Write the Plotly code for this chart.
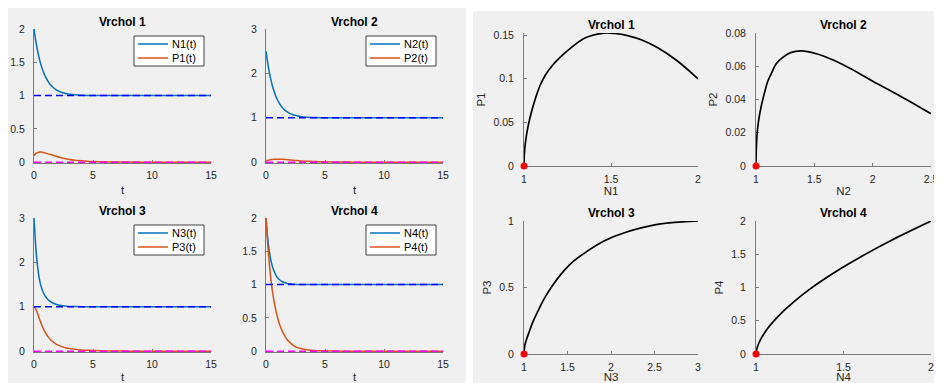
import plotly.graph_objects as go

# page has an 8px body margin: the figure is drawn at (8, 8) in the 942x383 window
OFF = 8
W, H = 942 - OFF, 383 - OFF

# ---------------- data ----------------
t = [0, 0.1, 0.2, 0.3, 0.4, 0.5, 0.6, 0.8, 1.0, 1.2, 1.4, 1.6, 1.8, 2.0,
     2.3, 2.6, 3.0, 3.5, 4.0, 4.5, 5, 6, 7, 8, 10, 12, 15]

N1 = [2.0, 1.878, 1.771, 1.677, 1.595, 1.522, 1.458, 1.353, 1.273, 1.210, 1.162, 1.125, 1.096, 1.074,
      1.050, 1.034, 1.020, 1.011, 1.006, 1.003, 1.0015, 1.0004, 1.0001, 1.0, 1.0, 1.0, 1.0]
P1 = [0.100, 0.121, 0.1353, 0.1444, 0.1495, 0.152, 0.1524, 0.147, 0.136, 0.125, 0.115, 0.105, 0.094, 0.0825,
      0.067, 0.055, 0.042, 0.031, 0.023, 0.016, 0.0116, 0.006, 0.003, 0.0015, 0.0005, 0.0002, 0.0]

N2 = [2.5, 2.311, 2.145, 2.001, 1.875, 1.764, 1.667, 1.510, 1.389, 1.297, 1.227, 1.173, 1.132, 1.101,
      1.067, 1.045, 1.026, 1.013, 1.007, 1.0035, 1.0018, 1.0005, 1.0001, 1.0, 1.0, 1.0, 1.0]
P2 = [0.0314, 0.0391, 0.0456, 0.0510, 0.0561, 0.0603, 0.0636, 0.0677, 0.0692, 0.0682, 0.0652, 0.0615, 0.0557, 0.0510,
      0.0425, 0.036, 0.029, 0.022, 0.017, 0.012, 0.0085, 0.0045, 0.002, 0.001, 0.0004, 0.0001, 0.0]

N3 = [3.0, 2.55, 2.18, 1.92, 1.72, 1.57, 1.46, 1.31, 1.22, 1.16, 1.115, 1.085, 1.063, 1.046,
      1.028, 1.017, 1.009, 1.004, 1.002, 1.001, 1.0005, 1.0001, 1.0, 1.0, 1.0, 1.0, 1.0]
P3 = [1.0, 0.976, 0.917, 0.850, 0.770, 0.698, 0.627, 0.498, 0.401, 0.322, 0.26, 0.213, 0.173, 0.142,
      0.108, 0.085, 0.062, 0.041, 0.029, 0.021, 0.015, 0.007, 0.003, 0.0015, 0.0004, 0.0001, 0.0]

N4 = [2.0, 1.78, 1.61, 1.48, 1.38, 1.30, 1.24, 1.155, 1.10, 1.065, 1.043, 1.028, 1.018, 1.012,
      1.006, 1.003, 1.0015, 1.0006, 1.0002, 1.0001, 1.0, 1.0, 1.0, 1.0, 1.0, 1.0, 1.0]
P4 = [2.0, 1.719, 1.479, 1.278, 1.108, 0.960, 0.837, 0.642, 0.491, 0.378, 0.293, 0.226, 0.173, 0.135,
      0.088, 0.058, 0.038, 0.022, 0.011, 0.007, 0.004, 0.0013, 0.0004, 0.0001, 0.0, 0.0, 0.0]

t_eq = [0, 15]
N_eq = [1, 1]
P_eq = [0, 0]
N_star = [1]
P_star = [0]

titles = ["Vrchol 1", "Vrchol 2", "Vrchol 3", "Vrchol 4"]
N_names = ["N1(t)", "N2(t)", "N3(t)", "N4(t)"]
P_names = ["P1(t)", "P2(t)", "P3(t)", "P4(t)"]
N_labels = ["N1", "N2", "N3", "N4"]
P_labels = ["P1", "P2", "P3", "P4"]
t_label = "t"

time_yticks = [[0, 0.5, 1, 1.5, 2], [0, 1, 2, 3], [0, 1, 2, 3], [0, 0.5, 1, 1.5, 2]]
time_xticks = [0, 5, 10, 15]
phase_xticks = [[1, 1.5, 2], [1, 1.5, 2, 2.5], [1, 1.5, 2, 2.5, 3], [1, 1.5, 2]]
phase_yticks = [[0, 0.05, 0.1, 0.15], [0, 0.02, 0.04, 0.06, 0.08], [0, 0.5, 1], [0, 0.5, 1, 1.5, 2]]
phase_yrange_top = [0.1525, 0.08, 1.0, 2.0]

Ns = [N1, N2, N3, N4]
Ps = [P1, P2, P3, P4]

# ---------------- layout geometry (window pixels) ----------------
time_cols = [(34, 211), (266, 443)]
time_rows = [(29, 163), (218, 352)]
phase_cols = [(524, 698), (756, 931)]
phase_rows = [(33, 166), (221, 354)]
time_title_standoff = [6, 8]
phase_title_standoff = [3, 6]


def fx(x):
    return (x - OFF) / W


def fy(y):
    return 1 - (y - OFF) / H


FONT = "Liberation Sans, Arial, Helvetica, sans-serif"
TICKC = "#262626"
AXC = "#7a7a7a"
C_N = "#0072BD"
C_P = "#D95319"


def fmt(v):
    return ("%g" % v)


fig = go.Figure()
shapes = []
annotations = []

# gray panels (two MATLAB figure windows)
shapes.append(dict(type="rect", xref="paper", yref="paper", x0=0, x1=fx(466), y0=0, y1=1,
                   fillcolor="#f0f0f0", line=dict(width=0), layer="below"))
shapes.append(dict(type="rect", xref="paper", yref="paper", x0=fx(473), x1=1, y0=0, y1=fy(11),
                   fillcolor="#f0f0f0", line=dict(width=0), layer="below"))


def axis_common():
    return dict(showline=True, linecolor=AXC, linewidth=1, ticks="inside", ticklen=3, tickcolor=AXC,
                showgrid=False, zeroline=False, mirror=False, automargin=False, layer="below traces",
                tickfont=dict(family=FONT, size=10.5, color=TICKC), fixedrange=True)


def add_legend(ax_right, ax_top, names, colors):
    x1 = ax_right - 7
    x0 = x1 - 70
    y0 = ax_top + 7
    y1 = y0 + 30
    shapes.append(dict(type="rect", xref="paper", yref="paper", x0=fx(x0), x1=fx(x1), y0=fy(y1), y1=fy(y0),
                       fillcolor="white", line=dict(color="#404040", width=1), layer="above"))
    for j, (nm, c) in enumerate(zip(names, colors)):
        yy = y0 + 8 + j * 14
        shapes.append(dict(type="line", xref="paper", yref="paper", x0=fx(x0 + 4), x1=fx(x0 + 34),
                           y0=fy(yy), y1=fy(yy), line=dict(color=c, width=1.5), layer="above"))
        annotations.append(dict(text=nm, x=fx(x0 + 36), y=fy(yy), xref="paper", yref="paper",
                                xanchor="left", yanchor="middle", showarrow=False,
                                font=dict(family=FONT, size=11, color="#000000")))


layout = {}
for i in range(4):
    r, c = divmod(i, 2)
    # ---- time plot ----
    k = i + 1
    xa = "x" if k == 1 else "x%d" % k
    ya = "y" if k == 1 else "y%d" % k
    cx0, cx1 = time_cols[c]
    ry0, ry1 = time_rows[r]
    fig.add_trace(go.Scatter(x=t, y=Ns[i], mode="lines", name=N_names[i], showlegend=False,
                             line=dict(color=C_N, width=1.5, shape="spline"), xaxis=xa, yaxis=ya))
    fig.add_trace(go.Scatter(x=t, y=Ps[i], mode="lines", name=P_names[i], showlegend=False,
                             line=dict(color=C_P, width=1.5, shape="spline"), xaxis=xa, yaxis=ya))
    fig.add_trace(go.Scatter(x=t_eq, y=N_eq, mode="lines", showlegend=False,
                             line=dict(color="#0000FF", width=1.5, dash="7px,4px"), xaxis=xa, yaxis=ya))
    fig.add_trace(go.Scatter(x=t_eq, y=P_eq, mode="lines", showlegend=False,
                             line=dict(color="#FF00FF", width=1.5, dash="7px,4px"), xaxis=xa, yaxis=ya))
    xd = axis_common()
    xd.update(domain=[fx(cx0), fx(cx1)], anchor=ya, range=[0, 15], tickmode="array",
              tickvals=time_xticks, ticktext=[fmt(v) for v in time_xticks], ticklabelstandoff=2,
              title=dict(text=t_label, standoff=time_title_standoff[r],
                         font=dict(family=FONT, size=11.5, color=TICKC)))
    yd = axis_common()
    yt = time_yticks[i]
    yd.update(domain=[fy(ry1), fy(ry0)], anchor=xa, range=[-0.006 * yt[-1], yt[-1]], tickmode="array",
              tickvals=yt, ticktext=[fmt(v) for v in yt], ticklabelstandoff=6)
    layout["xaxis" if k == 1 else "xaxis%d" % k] = xd
    layout["yaxis" if k == 1 else "yaxis%d" % k] = yd
    annotations.append(dict(text=titles[i], x=fx((cx0 + cx1) / 2), y=fy(time_rows[r][0] - 7),
                            xref="paper", yref="paper", xanchor="center", yanchor="middle", showarrow=False,
                            font=dict(family=FONT, size=12, color="#000000", weight="bold")))
    add_legend(cx1, ry0, [N_names[i], P_names[i]], [C_N, C_P])

    # ---- phase plot ----
    k = i + 5
    xa = "x%d" % k
    ya = "y%d" % k
    cx0, cx1 = phase_cols[c]
    ry0, ry1 = phase_rows[r]
    fig.add_trace(go.Scatter(x=Ns[i], y=Ps[i], mode="lines", showlegend=False,
                             line=dict(color="#000000", width=1.7, shape="spline"), xaxis=xa, yaxis=ya))
    fig.add_trace(go.Scatter(x=N_star, y=P_star, mode="markers", showlegend=False, cliponaxis=False,
                             marker=dict(color="#FF0000", size=7), xaxis=xa, yaxis=ya))
    xt = phase_xticks[i]
    xd = axis_common()
    xd.update(domain=[fx(cx0), fx(cx1)], anchor=ya, range=[xt[0], xt[-1]], tickmode="array",
              tickvals=xt, ticktext=[fmt(v) for v in xt], ticklabelstandoff=3,
              title=dict(text=N_labels[i], standoff=phase_title_standoff[r],
                         font=dict(family=FONT, size=11.5, color=TICKC)))
    ytk = phase_yticks[i]
    yd = axis_common()
    yd.update(domain=[fy(ry1), fy(ry0)], anchor=xa, range=[0, phase_yrange_top[i]], tickmode="array",
              tickvals=ytk, ticktext=[fmt(v) for v in ytk], ticklabelstandoff=7,
              title=dict(text=P_labels[i], standoff=5, font=dict(family=FONT, size=11.5, color=TICKC)))
    layout["xaxis%d" % k] = xd
    layout["yaxis%d" % k] = yd
    annotations.append(dict(text=titles[i], x=fx((cx0 + cx1) / 2), y=fy(phase_rows[r][0] - 8),
                            xref="paper", yref="paper", xanchor="center", yanchor="middle", showarrow=False,
                            font=dict(family=FONT, size=12, color="#000000", weight="bold")))

fig.update_layout(**layout)
fig.update_layout(width=W, height=H, margin=dict(l=0, r=0, t=0, b=0, autoexpand=False),
                  paper_bgcolor="white", plot_bgcolor="white", showlegend=False,
                  shapes=shapes, annotations=annotations, font=dict(family=FONT))

fig.write_html("out.html", config={"displayModeBar": False})
